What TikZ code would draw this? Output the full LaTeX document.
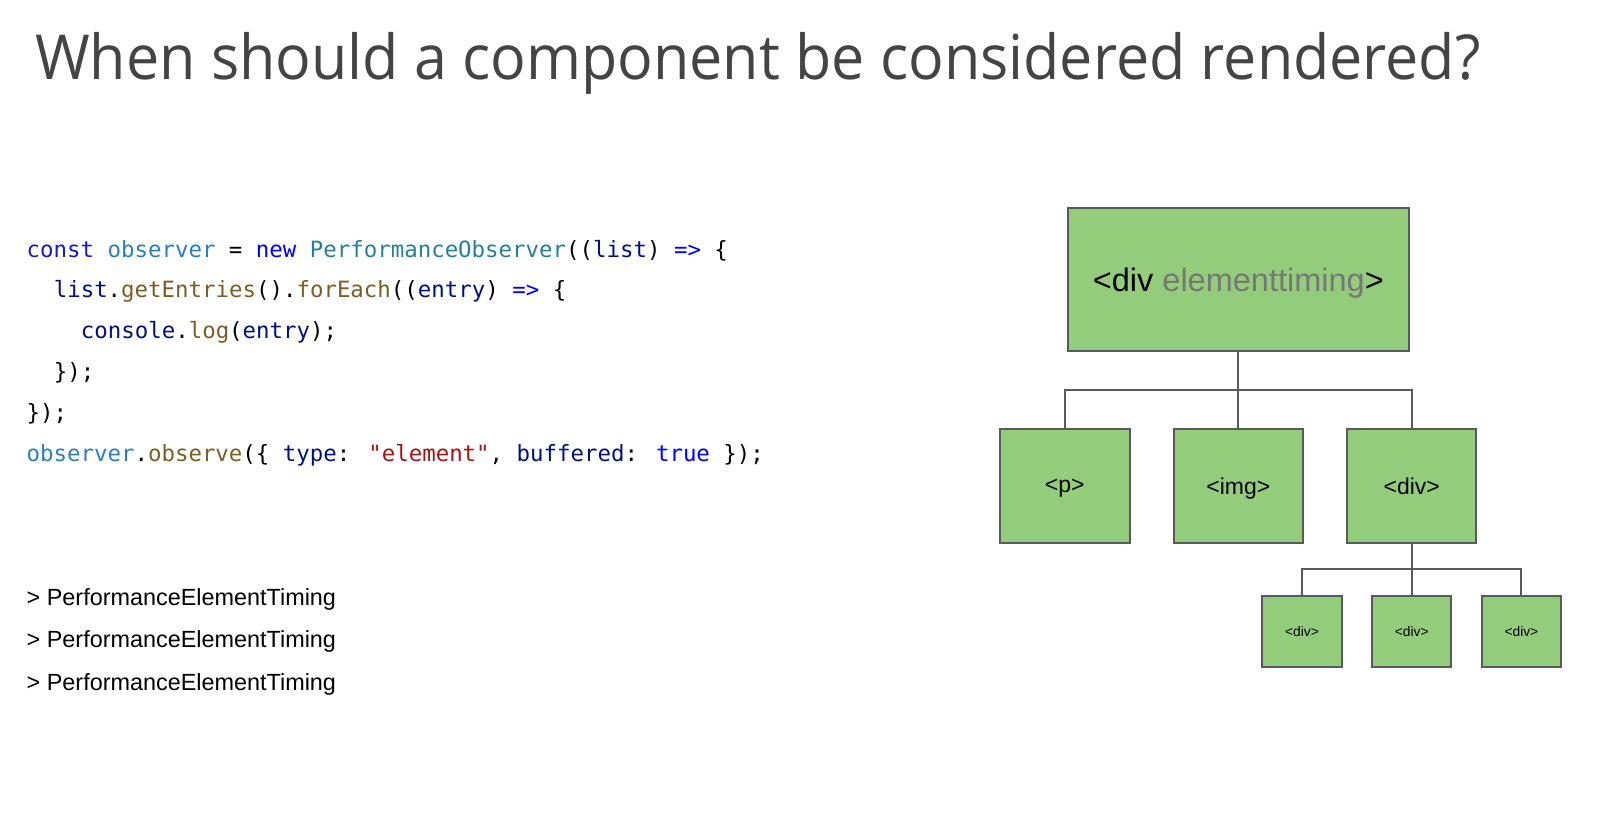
\documentclass[tikz,border=0pt]{standalone}
\usepackage{fontspec}
\setmainfont{Liberation Sans}
\newfontfamily\titlefont{Open Sans}
\newfontfamily\codefont{DejaVu Sans Mono}
\begin{document}
\definecolor{titlegray}{HTML}{444444}
\definecolor{kw}{HTML}{0000FF}
\definecolor{kwdark}{HTML}{1A1AB8}
\definecolor{var}{HTML}{2C7DBF}
\definecolor{cls}{HTML}{267F99}
\definecolor{param}{HTML}{001080}
\definecolor{fn}{HTML}{795E26}
\definecolor{str}{HTML}{A31515}
\definecolor{boxgreen}{HTML}{93CD7B}
\definecolor{edgegray}{HTML}{5A5A5A}
\definecolor{attrgray}{HTML}{777777}
\begin{tikzpicture}[x=1pt,y=-1pt,
  codeline/.style={anchor=base west,inner sep=0pt,font=\codefont\fontsize{22.4}{27}\selectfont},
  logline/.style={anchor=base west,inner sep=0pt,font=\fontsize{23.4}{28}\selectfont},
  elbox/.style={draw=edgegray,line width=2pt,fill=boxgreen,inner sep=0pt,text depth=0pt},
  bigbox/.style={elbox,minimum width=129.5pt,minimum height=114pt,font=\fontsize{23}{28}\selectfont},
  smallbox/.style={elbox,minimum width=79.5pt,minimum height=71pt,font=\fontsize{13.8}{16}\selectfont},
  link/.style={draw=edgegray,line width=2pt}]
\useasboundingbox (0,0) rectangle (1600,833);
% heading
\node[anchor=base west,inner sep=0pt,text=titlegray,font=\titlefont\fontsize{62}{70}\selectfont] (title) at (35,79.6) {\scalebox{0.954}[1]{When should a component be considered rendered?}};
% observer snippet
\node[codeline] (c1) at (26.5,257) {\textcolor{kwdark}{const} \textcolor{var}{observer} = \textcolor{kw}{new} \textcolor{cls}{PerformanceObserver}((\textcolor{param}{list}) \textcolor{kw}{=>} \{};
\node[codeline] (c2) at (53.6,297.8) {\textcolor{param}{list}.\textcolor{fn}{getEntries}().\textcolor{fn}{forEach}((\textcolor{param}{entry}) \textcolor{kw}{=>} \{};
\node[codeline] (c3) at (80.7,338.6) {\textcolor{param}{console}.\textcolor{fn}{log}(\textcolor{param}{entry});};
\node[codeline] (c4) at (53.6,379.4) {\});};
\node[codeline] (c5) at (26.5,420.2) {\});};
\node[codeline] (c6) at (26.5,461) {\textcolor{var}{observer}.\textcolor{fn}{observe}(\{ \textcolor{param}{type}: \textcolor{str}{"element"}, \textcolor{param}{buffered}: \textcolor{kw}{true} \});};
% console output
\node[logline] (o1) at (26.5,605) {> PerformanceElementTiming};
\node[logline] (o2) at (26.5,647) {> PerformanceElementTiming};
\node[logline] (o3) at (26.5,690) {> PerformanceElementTiming};
% element tree
\node[elbox,minimum width=341pt,minimum height=143pt,font=\fontsize{32.5}{38}\selectfont] (root) at (1238.3,279.6) {<div \textcolor{attrgray}{elementtiming}>};
\node[bigbox] (p) at (1064.8,485.7) {<p>};
\node[bigbox] (img) at (1238.3,485.7) {<img>};
\node[bigbox] (div) at (1411.7,485.7) {<div>};
\node[smallbox] (d1) at (1302,631.7) {<div>};
\node[smallbox] (d2) at (1411.7,631.7) {<div>};
\node[smallbox] (d3) at (1521.4,631.7) {<div>};
% connectors
\draw[link] (root.south) -- (img.north);
\draw[link] (p.north) |- (1238.3,389.8) -| (div.north);
\draw[link] (div.south) -- (d2.north);
\draw[link] (d1.north) |- (1411.7,569.4) -| (d3.north);
\end{tikzpicture}
\end{document}
